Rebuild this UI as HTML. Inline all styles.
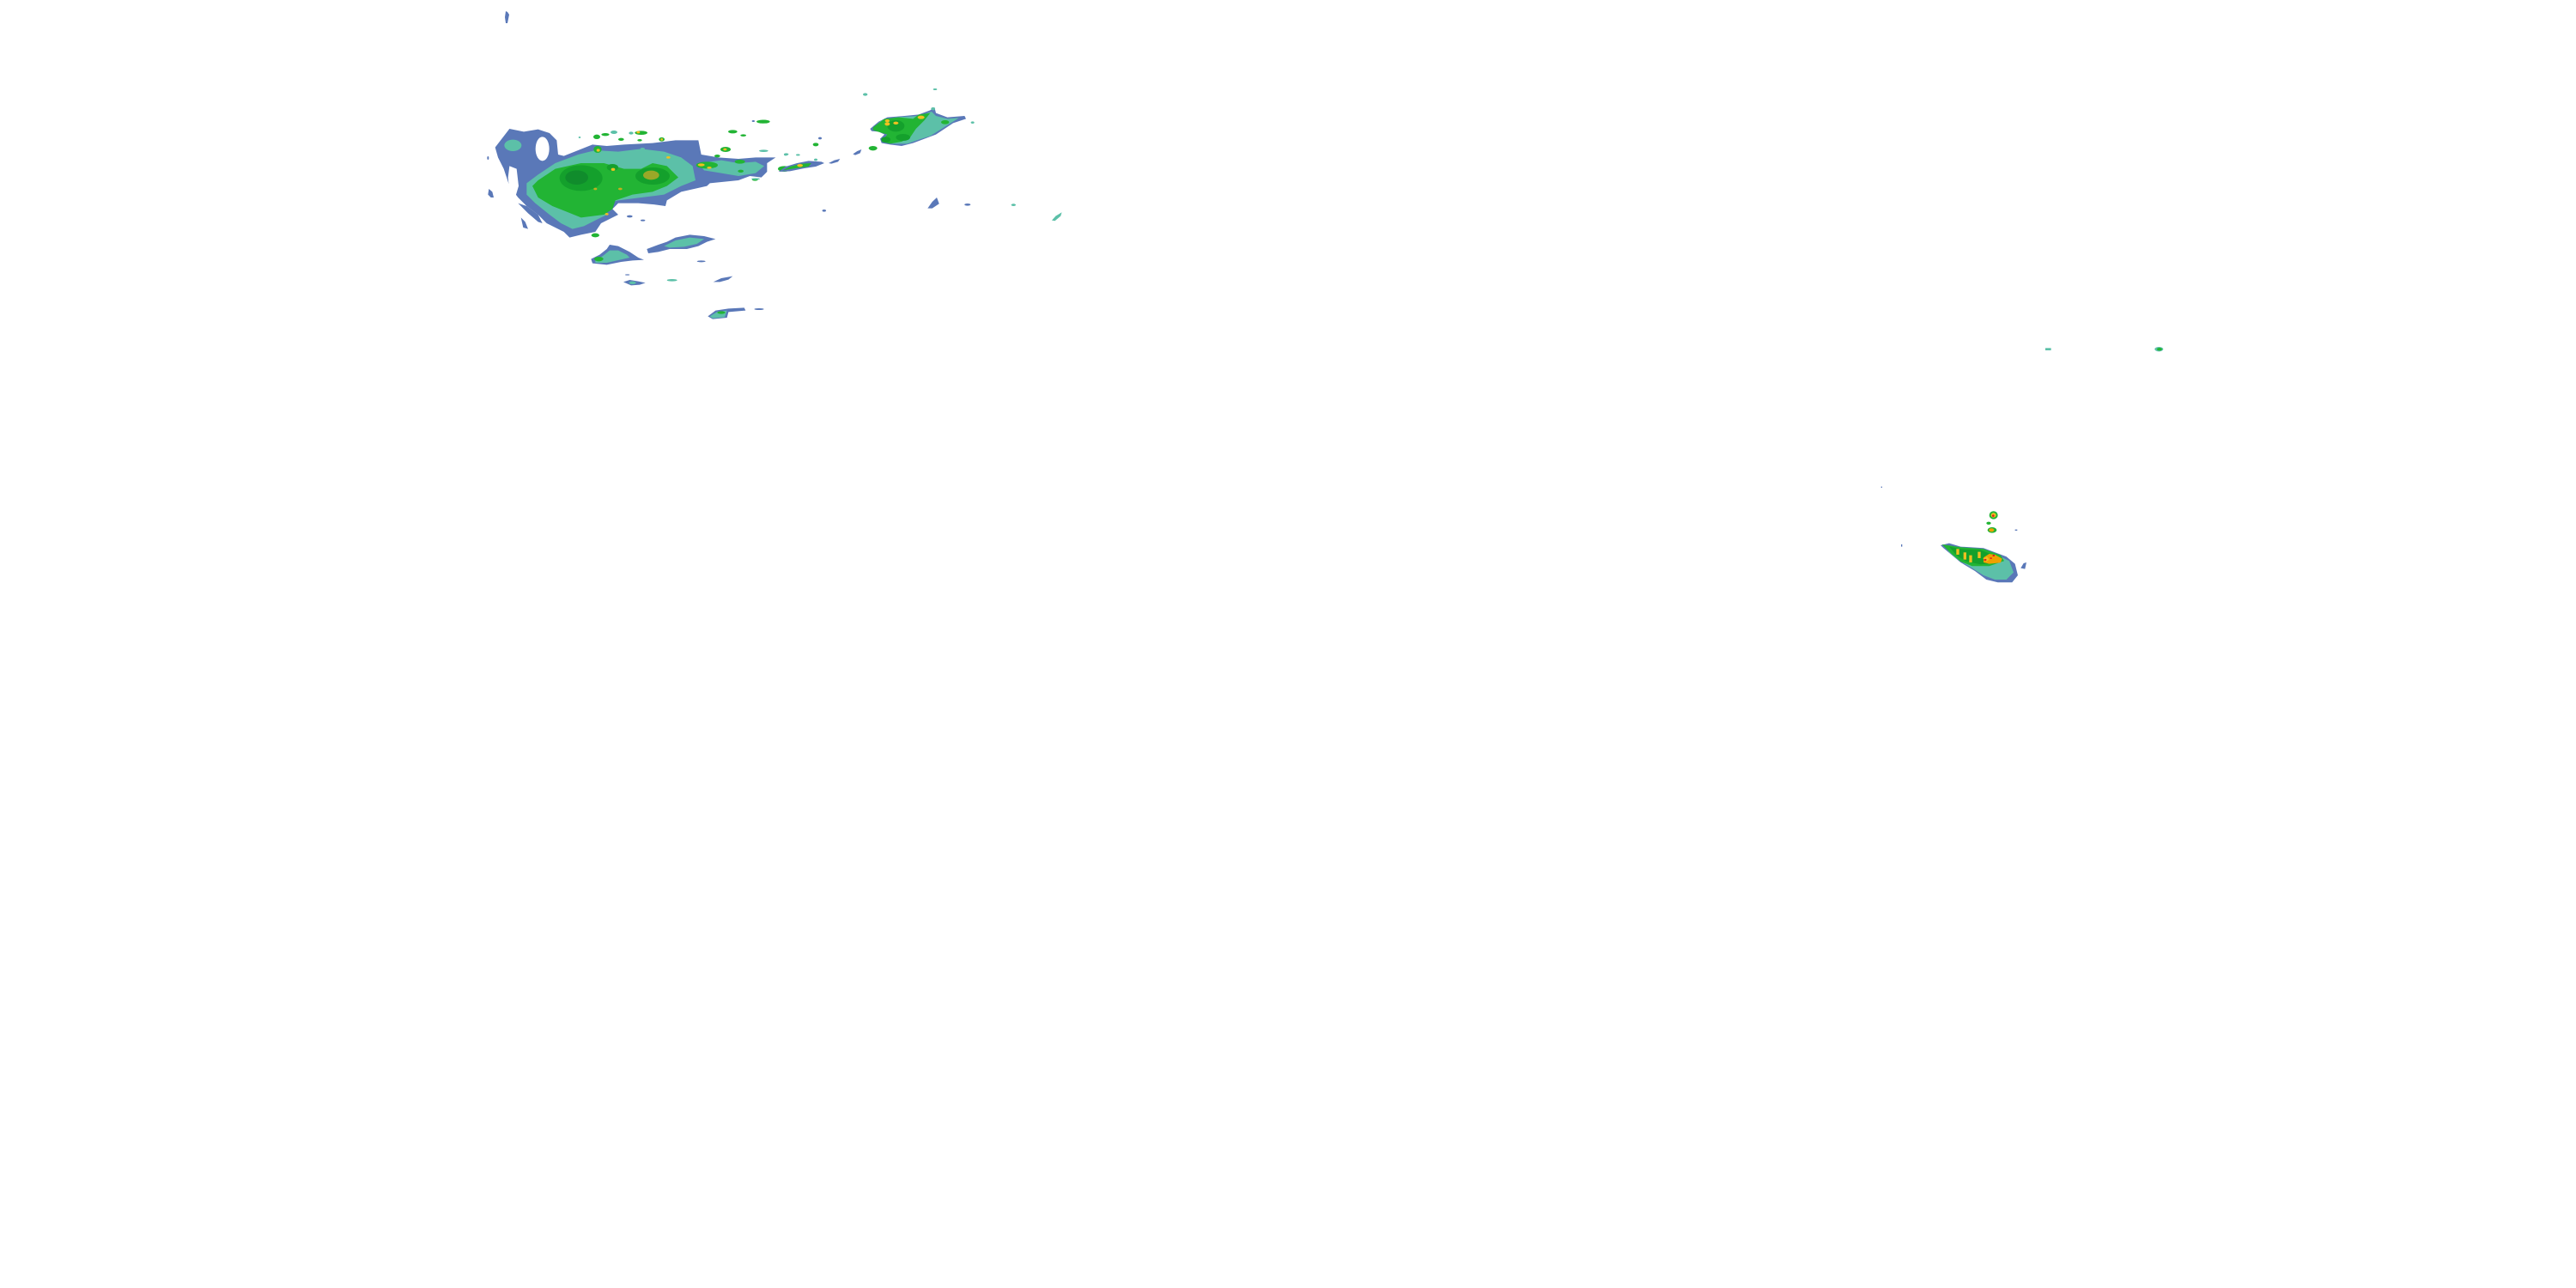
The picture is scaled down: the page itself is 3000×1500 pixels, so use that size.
<!DOCTYPE html>
<html><head><meta charset="utf-8"><style>
html,body{margin:0;padding:0;background:#fff;}
svg{display:block;}
</style></head><body>
<svg width="3000" height="1500" viewBox="0 0 3000 1500" xmlns="http://www.w3.org/2000/svg">
<rect width="3000" height="1500" fill="#fff"/>
<!-- top speck -->
<polygon fill="#5a78b8" points="589,13 591,14 593,17 592,22 591,27 589,27 588,20"/>

<!-- MAIN BLOB: zoom coords translate(560,130) scale 1/3 -->
<g transform="translate(560,130) scale(0.33333)">
  <polygon fill="#5a78b8" points="50,125 100,60 150,70 200,62 240,75 265,100 270,150 290,155 340,135 390,115 440,120 500,115 600,110 680,100 760,100 770,150 830,160 900,165 960,160 1030,160 1000,180 1000,210 980,230 940,225 900,240 800,250 790,260 700,280 650,310 645,330 610,325 550,320 480,320 460,340 480,360 420,390 400,420 350,430 310,440 290,420 230,390 200,360 160,330 130,300 100,260 80,200 60,160"/>
  <ellipse cx="215" cy="130" rx="24" ry="42" fill="#fff"/>
  <polygon fill="#fff" points="100,190 125,200 132,260 120,300 100,280 95,230"/>
  <!-- teal -->
  <ellipse cx="112" cy="118" rx="30" ry="20" fill="#5cc0a8"/>
  <polygon fill="#5cc0a8" points="160,250 200,220 260,180 340,150 400,135 480,140 560,130 640,140 700,160 740,190 750,240 700,260 640,290 560,300 480,310 440,320 440,360 400,380 360,400 320,410 280,390 240,360 190,320 160,290"/>
  <polygon fill="#5cc0a8" points="760,180 840,170 900,180 960,175 990,190 960,215 900,225 840,215 780,205"/>
  <!-- green -->
  <polygon fill="#22b434" points="180,260 200,240 260,200 350,180 430,180 500,200 560,200 600,180 650,190 690,230 650,260 600,280 530,290 470,310 460,340 430,360 350,370 300,350 250,330 200,300"/>
  <ellipse cx="350" cy="232" rx="75" ry="45" fill="#14a02c"/>
  <ellipse cx="335" cy="230" rx="40" ry="25" fill="#108c2c"/>
  <ellipse cx="600" cy="225" rx="60" ry="30" fill="#14a02c"/>
  <ellipse cx="595" cy="222" rx="28" ry="16" fill="#9aa828"/>
  <ellipse cx="460" cy="195" rx="20" ry="12" fill="#14a02c"/>
  <ellipse cx="408" cy="132" rx="14" ry="12" fill="#22b434"/>
  <!-- yellow specks -->
  <ellipse cx="410" cy="135" rx="6" ry="5" fill="#f0c020"/>
  <ellipse cx="462" cy="202" rx="7" ry="5" fill="#f0c020"/>
  <ellipse cx="655" cy="160" rx="7" ry="4" fill="#f0c020"/>
  <ellipse cx="400" cy="270" rx="6" ry="4" fill="#c0b020"/>
  <ellipse cx="487" cy="270" rx="7" ry="4" fill="#c0b020"/>
  <ellipse cx="440" cy="358" rx="6" ry="4" fill="#f0c020"/>
  <!-- east extension cells -->
  <ellipse cx="790" cy="187" rx="38" ry="12" fill="#22b434"/>
  <ellipse cx="770" cy="186" rx="12" ry="5" fill="#f0c020"/>
  <ellipse cx="798" cy="196" rx="8" ry="4" fill="#f0c020"/>
  <ellipse cx="905" cy="175" rx="18" ry="7" fill="#22b434"/>
  <ellipse cx="908" cy="208" rx="10" ry="5" fill="#22b434"/>
  <ellipse cx="958" cy="238" rx="10" ry="4" fill="#22b434"/>
  <ellipse cx="855" cy="132" rx="18" ry="9" fill="#22b434"/>
  <ellipse cx="853" cy="132" rx="6" ry="4" fill="#f0c020"/>
  <ellipse cx="826" cy="155" rx="10" ry="5" fill="#22b434"/>
  <ellipse cx="988" cy="137" rx="16" ry="4" fill="#5cc0a8"/>
  <ellipse cx="1065" cy="150" rx="6" ry="4" fill="#5cc0a8"/>
  <ellipse cx="1060" cy="200" rx="22" ry="10" fill="#22b434"/>
  <!-- top small cells -->
  <ellipse cx="405" cy="88" rx="12" ry="8" fill="#22b434"/>
  <ellipse cx="435" cy="80" rx="14" ry="5" fill="#22b434"/>
  <ellipse cx="465" cy="72" rx="12" ry="6" fill="#5cc0a8"/>
  <ellipse cx="490" cy="97" rx="10" ry="5" fill="#22b434"/>
  <ellipse cx="525" cy="75" rx="8" ry="5" fill="#5cc0a8"/>
  <ellipse cx="560" cy="74" rx="22" ry="7" fill="#22b434"/>
  <ellipse cx="550" cy="72" rx="6" ry="4" fill="#f0c020"/>
  <ellipse cx="555" cy="100" rx="8" ry="4" fill="#22b434"/>
  <ellipse cx="632" cy="97" rx="10" ry="7" fill="#22b434"/>
  <ellipse cx="632" cy="97" rx="4" ry="4" fill="#f0c020"/>
  <ellipse cx="565" cy="130" rx="8" ry="4" fill="#5cc0a8"/>
  <ellipse cx="880" cy="70" rx="16" ry="6" fill="#22b434"/>
  <ellipse cx="917" cy="83" rx="10" ry="4" fill="#22b434"/>
  <ellipse cx="985" cy="35" rx="22" ry="6" fill="#22b434"/>
  <ellipse cx="345" cy="90" rx="4" ry="3" fill="#5cc0a8"/>
  <!-- left / bottom specks -->
  <ellipse cx="25" cy="162" rx="3" ry="6" fill="#5a78b8"/>
  <polygon fill="#5a78b8" points="28,270 40,280 45,300 35,300 25,290"/>
  <polygon fill="#5a78b8" points="130,320 160,330 200,360 215,390 200,385 165,355"/>
  <polygon fill="#5a78b8" points="140,370 155,385 165,410 148,405"/>
  <ellipse cx="400" cy="432" rx="14" ry="7" fill="#22b434"/>
  <ellipse cx="520" cy="366" rx="10" ry="4" fill="#5a78b8"/>
  <ellipse cx="566" cy="380" rx="8" ry="3" fill="#5a78b8"/>
</g>

<!-- Lower blobs: translate(640,260) scale 1/3 -->
<g transform="translate(640,260) scale(0.33333)">
  <polygon fill="#5a78b8" points="145,125 175,110 200,90 210,75 240,80 280,100 310,120 330,128 290,130 250,135 200,145 150,140"/>
  <polygon fill="#5cc0a8" points="160,128 185,115 210,95 240,95 270,110 280,120 245,128 200,138 160,138"/>
  <ellipse cx="172" cy="125" rx="16" ry="8" fill="#22b434"/>
  <polygon fill="#5a78b8" points="340,90 380,75 410,65 440,50 490,40 540,45 580,55 550,65 520,80 480,90 420,90 380,100 345,105"/>
  <polygon fill="#5cc0a8" points="400,80 440,60 490,50 540,55 515,72 470,82 420,85"/>
  <polygon fill="#5a78b8" points="258,205 280,198 310,203 335,208 315,215 285,217"/>
  <ellipse cx="290" cy="208" rx="12" ry="5" fill="#5cc0a8"/>
  <ellipse cx="272" cy="180" rx="8" ry="2" fill="#5a78b8"/>
  <ellipse cx="428" cy="199" rx="18" ry="4" fill="#5cc0a8"/>
  <polygon fill="#5a78b8" points="572,205 600,192 640,185 625,197 595,205"/>
  <ellipse cx="530" cy="133" rx="15" ry="3" fill="#5a78b8"/>
  <polygon fill="#5a78b8" points="553,325 580,305 625,298 680,295 685,305 625,310 620,330 570,335"/>
  <polygon fill="#5cc0a8" points="560,325 585,310 620,305 612,328 570,332"/>
  <ellipse cx="600" cy="312" rx="14" ry="5" fill="#22b434"/>
  <ellipse cx="732" cy="300" rx="17" ry="3" fill="#5a78b8"/>
</g>

<!-- NE area: translate(870,90) scale 1/3 -->
<g transform="translate(870,90) scale(0.33333)">
  <polygon fill="#5a78b8" points="430,180 460,155 490,140 550,135 600,130 640,115 655,105 660,125 700,140 760,135 765,145 720,160 690,180 660,200 620,215 580,230 540,240 500,235 470,230 465,215 480,200 460,190 435,188"/>
  <polygon fill="#5cc0a8" points="440,178 470,150 520,140 600,135 645,120 660,135 700,145 740,142 715,158 680,180 640,205 600,218 560,232 510,232 475,222 490,200"/>
  <polygon fill="#22b434" points="440,175 480,145 530,140 580,145 600,130 640,125 620,150 590,180 570,210 540,225 500,232 470,225 490,200 440,185"/>
  <ellipse cx="520" cy="170" rx="30" ry="20" fill="#14a02c"/>
  <ellipse cx="545" cy="210" rx="25" ry="12" fill="#14a02c"/>
  <ellipse cx="485" cy="218" rx="16" ry="10" fill="#14a02c"/>
  <ellipse cx="490" cy="152" rx="8" ry="5" fill="#f0c020"/>
  <ellipse cx="490" cy="163" rx="9" ry="6" fill="#f0c020"/>
  <ellipse cx="520" cy="160" rx="9" ry="5" fill="#f0c020"/>
  <ellipse cx="608" cy="140" rx="12" ry="6" fill="#f0c020"/>
  <ellipse cx="692" cy="157" rx="14" ry="7" fill="#22b434"/>
  <ellipse cx="650" cy="110" rx="7" ry="5" fill="#5cc0a8"/>
  <!-- small cells -->
  <ellipse cx="413" cy="60" rx="8" ry="5" fill="#5cc0a8"/>
  <ellipse cx="657" cy="42" rx="7" ry="3" fill="#5cc0a8"/>
  <ellipse cx="788" cy="158" rx="6" ry="4" fill="#5cc0a8"/>
  <ellipse cx="60" cy="155" rx="20" ry="6" fill="#22b434"/>
  <ellipse cx="22" cy="153" rx="5" ry="3" fill="#5a78b8"/>
  <ellipse cx="255" cy="213" rx="6" ry="4" fill="#5a78b8"/>
  <ellipse cx="240" cy="235" rx="10" ry="6" fill="#22b434"/>
  <polygon fill="#5a78b8" points="370,268 385,258 400,252 395,265 378,272"/>
  <ellipse cx="440" cy="248" rx="15" ry="8" fill="#22b434"/>
  <ellipse cx="137" cy="269" rx="8" ry="4" fill="#5cc0a8"/>
  <ellipse cx="178" cy="271" rx="7" ry="3" fill="#5cc0a8"/>
  <polygon fill="#5a78b8" points="110,330 135,312 175,300 215,292 260,295 270,300 240,312 200,318 150,328"/>
  <polygon fill="#22b434" points="125,325 150,312 190,302 225,300 215,312 170,318"/>
  <ellipse cx="185" cy="308" rx="10" ry="5" fill="#f0c020"/>
  <ellipse cx="240" cy="288" rx="6" ry="4" fill="#5cc0a8"/>
  <polygon fill="#5a78b8" points="285,300 305,290 325,285 318,295 295,302"/>
  <ellipse cx="30" cy="355" rx="15" ry="3" fill="#5cc0a8"/>
</g>

<!-- far-right specks (zoom-1 frame) -->
<g transform="translate(550,0) scale(0.4464,0.3333)">
  <polygon fill="#5a78b8" points="1188,728 1200,705 1212,690 1218,712 1200,728"/>
  <ellipse cx="1292" cy="715" rx="8" ry="4" fill="#5a78b8"/>
  <ellipse cx="1412" cy="716" rx="6" ry="4" fill="#5cc0a8"/>
  <polygon fill="#5cc0a8" points="1512,770 1522,755 1538,742 1535,755 1520,772"/>
  <ellipse cx="918" cy="736" rx="5" ry="4" fill="#5a78b8"/>
</g>

<!-- SE cluster, zoom-2 coordinates -->
<g transform="translate(2150,380) scale(0.3333)">
  <rect x="696" y="76" width="20" height="8" fill="#5cc0a8"/>
  <ellipse cx="1093" cy="80" rx="15" ry="8" fill="#5cc0a8"/>
  <ellipse cx="1095" cy="80" rx="9" ry="5" fill="#22b434"/>
  <rect x="122" y="560" width="4" height="4" fill="#5a78b8"/>
  <rect x="192" y="762" width="4" height="8" fill="#5a78b8"/>
  <rect x="590" y="710" width="8" height="4" fill="#5a78b8"/>
  <ellipse cx="515" cy="660" rx="15" ry="14" fill="#22b434"/>
  <ellipse cx="515" cy="660" rx="9" ry="8" fill="#f0c020"/>
  <ellipse cx="514" cy="662" rx="4" ry="4" fill="#e02020"/>
  <ellipse cx="498" cy="688" rx="8" ry="5" fill="#22b434"/>
  <ellipse cx="510" cy="712" rx="16" ry="10" fill="#22b434"/>
  <ellipse cx="508" cy="712" rx="9" ry="6" fill="#f0a000"/>
  <polygon fill="#5a78b8" points="330,765 360,758 400,770 480,775 520,790 560,805 590,830 600,870 580,895 530,895 490,885 450,855 400,825 370,800 340,775"/>
  <polygon fill="#5cc0a8" points="345,765 400,775 480,780 530,800 570,820 585,860 560,885 520,885 480,870 440,845 390,815 360,790"/>
  <polygon fill="#22b434" points="335,762 400,772 480,778 540,800 552,820 500,838 440,838 400,822 370,797"/>
  <polygon fill="#14a02c" points="360,770 400,778 470,782 530,805 520,828 470,832 420,822 385,800"/>
  <rect x="385" y="778" width="10" height="20" fill="#f0c020"/>
  <rect x="410" y="790" width="10" height="25" fill="#f0c020"/>
  <rect x="430" y="800" width="10" height="25" fill="#f0c020"/>
  <rect x="460" y="788" width="10" height="22" fill="#f0c020"/>
  <polygon fill="#f0a000" points="480,808 500,795 520,798 545,812 540,826 500,830 480,825"/>
  <polygon fill="#f0c020" points="478,812 492,805 500,815 490,822"/>
  <rect x="482" y="813" width="8" height="6" fill="#e02020"/>
  <rect x="512" y="798" width="7" height="6" fill="#e02020"/>
  <rect x="503" y="808" width="6" height="5" fill="#e02020"/>
  <polygon fill="#5a78b8" points="610,845 620,828 630,825 625,848"/>
</g>
</svg>
</body></html>
